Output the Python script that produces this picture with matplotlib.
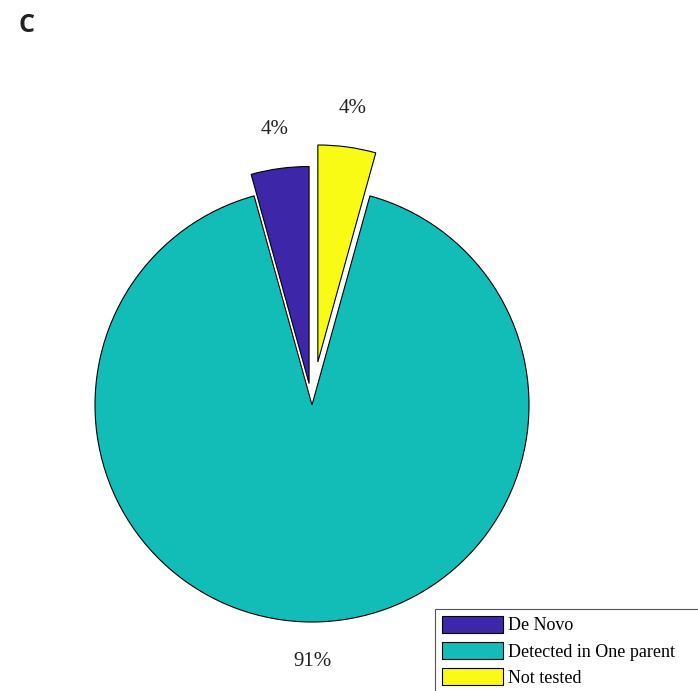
import matplotlib
matplotlib.use('Agg')
import matplotlib.pyplot as plt
from matplotlib.patches import Rectangle

# data
categories = ['De Novo', 'Detected in One parent', 'Not tested']
shares = [4.3, 91.4, 4.3]
explode = [0.1, 0.0, 0.2]
colors = ['#3E26A8', '#13BDB7', '#F9FB15']

fig = plt.figure(figsize=(6.98, 6.91), dpi=100)
W, H = 698, 691
cx, cy, R = 312, 405, 217   # pie centre / radius in pixels
half = 300
ax = fig.add_axes([(cx - half) / W, 1 - (cy + half) / H, 2 * half / W, 2 * half / H])

wedges, _, pcts = ax.pie(shares, explode=explode, colors=colors, labels=categories,
                         labeldistance=None, startangle=90, counterclock=True,
                         autopct='%.0f%%', pctdistance=1.18,
                         wedgeprops=dict(edgecolor='black', linewidth=0.8),
                         textprops=dict(family='Liberation Serif', fontsize=15, color='#222222'))

lim = half / R
ax.set_xlim(-lim, lim)
ax.set_ylim(-lim, lim)
ax.set_aspect('equal')
ax.axis('off')

# legend (its box runs off the right/bottom edge like in the original)
leg = fig.legend(wedges, categories, loc='upper left',
                 bbox_to_anchor=(435 / W, 1 - 609 / H),
                 prop=dict(family='Liberation Serif', size=13),
                 handlelength=3.4, handleheight=1.05, handletextpad=0.25,
                 labelspacing=0.42, borderpad=0.38, borderaxespad=0,
                 frameon=False)
fig.add_artist(Rectangle((435 / W, -0.05), 0.5, 1 - 609 / H + 0.05,
                         transform=fig.transFigure, facecolor='white',
                         edgecolor='#555555', linewidth=0.8, zorder=1))
leg.set_zorder(2)

fig.text(19 / W, 1 - 26 / H, 'C', fontsize=18, fontweight='bold',
         family='Open Sans', va='center', ha='left', color='#222222')

fig.savefig('out.png', dpi=100)
